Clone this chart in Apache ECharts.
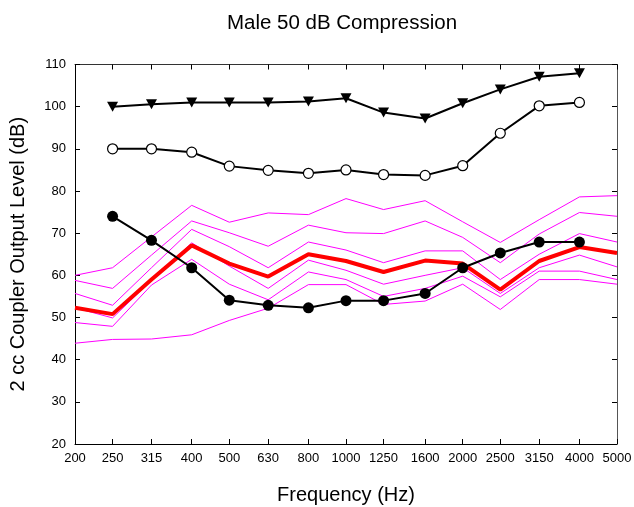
<!DOCTYPE html>
<html>
<head>
<meta charset="utf-8">
<script src="https://cdn.jsdelivr.net/npm/echarts@6/dist/echarts.min.js"></script>
<style>
  html, body { margin: 0; padding: 0; background: #fff; }
  #chart { width: 634px; height: 507px; }
</style>
</head>
<body>
<div id="chart"></div>
<script>
// One-third-octave band centre frequencies (Hz)
const freqs = [200, 250, 315, 400, 500, 630, 800, 1000, 1250, 1600, 2000, 2500, 3150, 4000, 5000];

// Individual coupler responses (dB SPL), one value per band
const resp1 = [60.0, 61.8, 69.1, 76.6, 72.6, 74.8, 74.4, 78.2, 75.6, 77.7, 72.7, 67.8, 73.2, 78.6, 78.9];
const resp2 = [58.8, 56.9, 64.8, 72.9, 70.1, 66.9, 71.9, 70.1, 69.9, 72.9, 69.0, 63.0, 69.8, 74.9, 74.0];
const resp3 = [55.7, 52.9, 61.8, 70.9, 66.8, 61.8, 67.9, 66.0, 63.0, 65.8, 65.8, 59.0, 65.0, 69.9, 67.9];
const resp4 = [52.3, 49.9, 58.8, 67.7, 62.2, 56.9, 63.6, 61.2, 57.9, 60.0, 61.8, 55.7, 61.8, 64.8, 62.0];
const resp5 = [48.8, 47.9, 57.7, 63.8, 57.9, 54.2, 60.8, 59.0, 55.0, 56.9, 59.8, 54.9, 61.0, 61.0, 59.0];
const resp6 = [43.9, 44.8, 44.9, 45.9, 49.3, 52.2, 57.8, 57.8, 53.1, 53.9, 57.9, 51.9, 59.0, 59.0, 57.9];

// Mean response
const meanResp = [52.3, 50.8, 59.0, 67.1, 62.8, 59.7, 65.0, 63.4, 60.8, 63.5, 62.8, 56.6, 63.4, 66.7, 65.3];

// Reference curves, 250 Hz to 4000 Hz
const refFreqs = [250, 315, 400, 500, 630, 800, 1000, 1250, 1600, 2000, 2500, 3150, 4000];
const uclTriangles = [100.0, 100.6, 101.0, 101.0, 101.0, 101.2, 102.0, 98.6, 97.2, 100.8, 104.1, 107.1, 107.9];
const openCircles = [90.0, 90.0, 89.2, 85.9, 84.9, 84.2, 85.0, 83.9, 83.7, 86.0, 93.7, 100.2, 101.0];
const filledCircles = [74.0, 68.3, 61.8, 54.1, 52.9, 52.3, 54.0, 54.0, 55.7, 61.8, 65.3, 67.9, 67.9];

const yTicks = [20, 30, 40, 50, 60, 70, 80, 90, 100, 110];

const pair = (xs, ys) => xs.map((x, i) => [x, ys[i]]);

const FONT = 'Liberation Sans, Arial, Helvetica, sans-serif';

const chart = echarts.init(document.getElementById('chart'), null, { renderer: 'canvas' });

const xAxisBase = {
  type: 'log',
  logBase: 10,
  min: 200,
  max: 5000,
  axisLine: { show: true, onZero: false, lineStyle: { color: '#000', width: 1 } },
  splitLine: { show: false },
  minorTick: { show: false },
  axisTick: { show: true, inside: true, length: 5, customValues: freqs, lineStyle: { color: '#000' } },
};

const yAxisBase = {
  type: 'value',
  min: 20,
  max: 110,
  interval: 10,
  axisLine: { show: true, onZero: false, lineStyle: { color: '#000', width: 1 } },
  splitLine: { show: false },
  axisTick: { show: true, inside: true, length: 5, lineStyle: { color: '#000' } },
};

const magentaLine = (data) => ({
  type: 'line',
  data: pair(freqs, data),
  symbol: 'none',
  lineStyle: { color: '#ff00ff', width: 1 },
  silent: true,
});

chart.setOption({
  animation: false,
  backgroundColor: '#fff',
  title: {
    text: 'Male 50 dB Compression',
    left: 337,
    top: 8,
    textAlign: 'center',
    textStyle: { fontFamily: FONT, fontSize: 20.5, fontWeight: 'normal', color: '#000' },
  },
  grid: { left: 75, right: 17, top: 64.5, bottom: 63, containLabel: false, outerBoundsMode: 'none' },
  xAxis: [
    Object.assign({}, xAxisBase, {
      position: 'bottom',
      name: 'Frequency (Hz)',
      nameLocation: 'middle',
      nameGap: 41,
      nameTextStyle: { fontFamily: FONT, fontSize: 20, color: '#000' },
      axisLabel: {
        show: true,
        customValues: freqs,
        margin: 8,
        fontFamily: FONT,
        fontSize: 13,
        color: '#000',
        formatter: (v) => String(Math.round(v)),
      },
    }),
    Object.assign({}, xAxisBase, {
      position: 'top',
      axisLabel: { show: false },
      axisLine: { show: true, onZero: false, lineStyle: { color: '#333', width: 1 } },
    }),
  ],
  yAxis: [
    Object.assign({}, yAxisBase, {
      position: 'left',
      name: '2 cc Coupler Output Level (dB)',
      nameLocation: 'middle',
      nameGap: 47,
      nameRotate: 90,
      nameTextStyle: { fontFamily: FONT, fontSize: 20, color: '#000' },
      axisLabel: {
        show: true,
        margin: 9,
        fontFamily: FONT,
        fontSize: 13,
        color: '#000',
        customValues: yTicks,
      },
    }),
    Object.assign({}, yAxisBase, {
      position: 'right',
      axisLabel: { show: false },
      axisLine: { show: true, onZero: false, lineStyle: { color: '#555', width: 1 } },
    }),
  ],
  series: [
    magentaLine(resp1),
    magentaLine(resp2),
    magentaLine(resp3),
    magentaLine(resp4),
    magentaLine(resp5),
    magentaLine(resp6),
    {
      type: 'line',
      data: pair(freqs, meanResp),
      symbol: 'none',
      lineStyle: { color: '#ff0000', width: 4 },
    },
    {
      type: 'line',
      data: pair(refFreqs, filledCircles),
      symbol: 'circle',
      symbolSize: 11,
      itemStyle: { color: '#000' },
      lineStyle: { color: '#000', width: 2 },
    },
    {
      type: 'line',
      data: pair(refFreqs, openCircles),
      symbol: 'circle',
      symbolSize: 10,
      itemStyle: { color: '#fff', borderColor: '#000', borderWidth: 1.2 },
      lineStyle: { color: '#000', width: 2 },
    },
    {
      type: 'line',
      data: pair(refFreqs, uclTriangles),
      symbol: 'triangle',
      symbolRotate: 180,
      symbolSize: [11, 10],
      itemStyle: { color: '#000' },
      lineStyle: { color: '#000', width: 2 },
    },
  ],
});
</script>
</body>
</html>
